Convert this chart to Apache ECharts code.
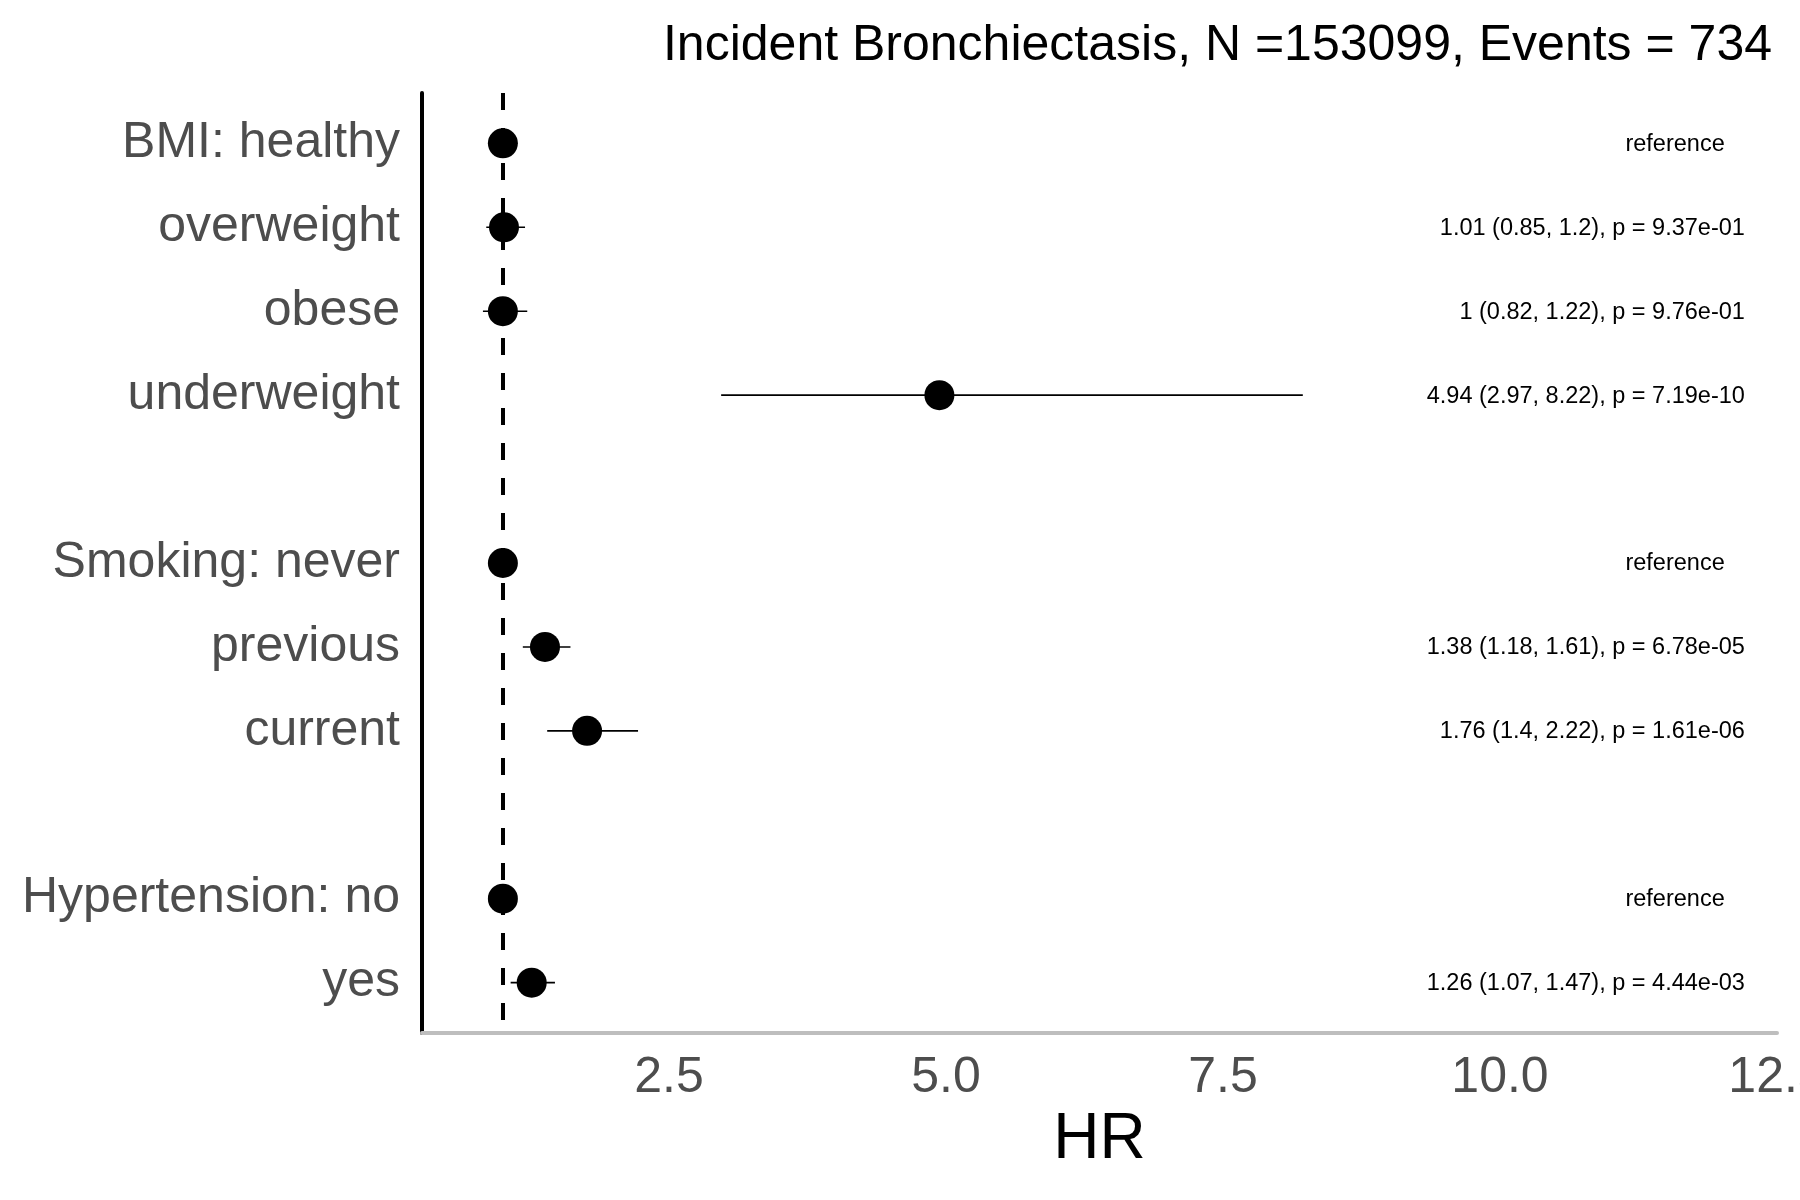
<!DOCTYPE html>
<html>
<head>
<meta charset="utf-8">
<title>Incident Bronchiectasis</title>
<script src="https://cdn.jsdelivr.net/npm/echarts@6/dist/echarts.min.js"></script>
<style>
html, body { margin: 0; padding: 0; background: #fff; }
#main { width: 1800px; height: 1200px; }
</style>
</head>
<body>
<div id="main"></div>
<script>
// rows from top to bottom, '' = spacer row
var rowLabels = ['BMI: healthy', 'overweight', 'obese', 'underweight', '',
    'Smoking: never', 'previous', 'current', '',
    'Hypertension: no', 'yes'];
var hrValues = [1, 1.01, 1, 4.94, null, 1, 1.38, 1.76, null, 1, 1.26];
var ciLower  = [1, 0.85, 0.82, 2.97, null, 1, 1.18, 1.4, null, 1, 1.07];
var ciUpper  = [1, 1.2, 1.22, 8.22, null, 1, 1.61, 2.22, null, 1, 1.47];
var statText = ['reference', '1.01 (0.85, 1.2), p = 9.37e-01', '1 (0.82, 1.22), p = 9.76e-01',
    '4.94 (2.97, 8.22), p = 7.19e-10', '', 'reference', '1.38 (1.18, 1.61), p = 6.78e-05',
    '1.76 (1.4, 2.22), p = 1.61e-06', '', 'reference', '1.26 (1.07, 1.47), p = 4.44e-03'];
var xTicks = [2.5, 5, 7.5, 10, 12.5];
var titleText = 'Incident Bronchiectasis, N =153099, Events = 734';

var FONT = '"Liberation Sans", Arial, sans-serif';

var pointData = [], ciData = [], textData = [], yTicks = [];
for (var i = 0; i < rowLabels.length; i++) {
    if (rowLabels[i] !== '') yTicks.push(i);
    if (hrValues[i] == null) continue;
    pointData.push([hrValues[i], i]);
    ciData.push([ciLower[i], ciUpper[i], i]);
    textData.push([i, statText[i]]);
}

var myChart = echarts.init(document.getElementById('main'));
var option = {
    backgroundColor: '#fff',
    animation: false,
    title: {
        text: titleText,
        right: 23,
        top: 16,
        textStyle: { fontFamily: FONT, fontSize: 50, fontWeight: 'normal', color: '#000' }
    },
    grid: { left: 422, right: 23, top: 93, bottom: 167, outerBoundsMode: 'none', containLabel: false },
    xAxis: {
        type: 'value',
        min: 0.27,
        max: 12.5,
        name: 'HR',
        nameLocation: 'middle',
        nameGap: 57,
        nameTextStyle: { fontFamily: FONT, fontSize: 64, color: '#000' },
        axisLine: { show: true, onZero: false, lineStyle: { color: '#bebebe', width: 4 } },
        axisTick: { show: false },
        splitLine: { show: false },
        axisLabel: {
            customValues: xTicks,
            margin: 20,
            fontFamily: FONT,
            fontSize: 50,
            color: '#4d4d4d',
            formatter: function (v) { return v.toFixed(1); }
        }
    },
    yAxis: {
        type: 'value',
        inverse: true,
        min: -0.6,
        max: 10.6,
        axisLine: { show: true, onZero: false, lineStyle: { color: '#000', width: 4 } },
        axisTick: { show: false },
        splitLine: { show: false },
        axisLabel: {
            customValues: yTicks,
            margin: 22,
            padding: [7, 0, 0, 0],
            fontFamily: FONT,
            fontSize: 50,
            color: '#4d4d4d',
            formatter: function (v) { return rowLabels[v]; }
        }
    },
    series: [
        {
            // confidence intervals
            type: 'custom',
            data: ciData,
            z: 2,
            renderItem: function (params, api) {
                var a = api.coord([api.value(0), api.value(2)]);
                var b = api.coord([api.value(1), api.value(2)]);
                return {
                    type: 'line',
                    shape: { x1: a[0], y1: a[1], x2: b[0], y2: b[1] },
                    style: { stroke: '#000', lineWidth: 1.6 }
                };
            }
        },
        {
            type: 'scatter',
            data: pointData,
            symbol: 'circle',
            symbolSize: 30,
            z: 3,
            itemStyle: { color: '#000', opacity: 1 },
            markLine: {
                silent: true,
                symbol: ['none', 'none'],
                label: { show: false },
                lineStyle: { color: '#000', width: 4, type: [17, 18] },
                data: [{ xAxis: 1 }]
            }
        },
        {
            // HR text column
            type: 'custom',
            data: textData,
            z: 4,
            renderItem: function (params, api) {
                var row = api.value(0);
                var txt = textData[params.dataIndex][1];
                var isRef = txt === 'reference';
                var p = api.coord([isRef ? 11.58 : 12.21, row]);
                return {
                    type: 'text',
                    style: {
                        x: p[0], y: p[1] + 1,
                        text: txt,
                        fill: '#000',
                        font: '23.5px ' + FONT,
                        align: isRef ? 'center' : 'right',
                        verticalAlign: 'middle'
                    }
                };
            }
        }
    ]
};
myChart.setOption(option);
</script>
</body>
</html>
